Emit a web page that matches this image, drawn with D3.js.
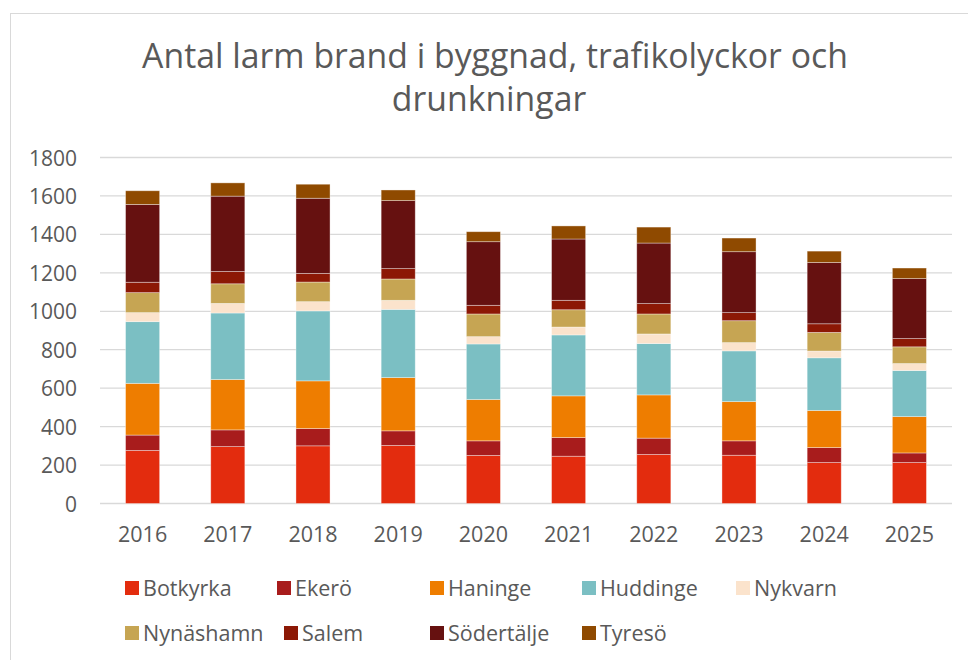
<!DOCTYPE html>
<html><head><meta charset="utf-8">
<script src="https://cdn.jsdelivr.net/npm/d3@7"></script>
<style>body{margin:0;background:#fff}svg{display:block}</style>
</head><body>
<svg id="c" width="968" height="660"></svg>
<script>
const years = ["2016","2017","2018","2019","2020","2021","2022","2023","2024","2025"];
const seriesNames = ["Botkyrka","Ekerö","Haninge","Huddinge","Nykvarn","Nynäshamn","Salem","Södertälje","Tyresö"];
const seriesColors = ["#E32C0E","#A81C1C","#EE7D00","#7BBFC3","#FBE3CC","#C6A553","#8C1805","#661110","#8F4A00"];
const Botkyrka   = [276, 296, 300, 302, 250, 246, 255, 251, 213, 213];
const Ekero      = [ 80,  87,  90,  76,  76,  97,  85,  75,  78,  50];
const Haninge    = [269, 262, 248, 277, 215, 217, 225, 204, 193, 189];
const Huddinge   = [321, 346, 364, 355, 289, 317, 267, 264, 274, 240];
const Nykvarn    = [ 47,  50,  48,  47,  38,  41,  50,  43,  35,  36];
const Nynashamn  = [104, 102, 102, 111, 118,  90, 104, 114,  97,  87];
const Salem      = [ 54,  64,  45,  54,  45,  49,  54,  42,  45,  43];
const Sodertalje = [405, 392, 391, 354, 331, 319, 315, 317, 319, 312];
const Tyreso     = [ 71,  69,  73,  55,  52,  68,  83,  71,  59,  55];
const yTicks = [0,200,400,600,800,1000,1200,1400,1600,1800];
const titleLines = ["Antal larm brand i byggnad, trafikolyckor och","drunkningar"];

const seriesValues = [Botkyrka,Ekero,Haninge,Huddinge,Nykvarn,Nynashamn,Salem,Sodertalje,Tyreso];
const table = years.map((yr,i)=>{const r={year:yr}; seriesNames.forEach((s,k)=>r[s]=seriesValues[k][i]); return r;});

const svg = d3.select("#c");
const FONT = "'Open Sans', 'Liberation Sans', sans-serif";
const TXT = "#595959";

// outer border
svg.append("rect").attr("x",10.5).attr("y",13.5).attr("width",1000).attr("height",700)
  .attr("fill","#fff").attr("stroke","#d9d9d9").attr("stroke-width",1);

const pLeft=100, pRight=952, pTop=157.5, pBottom=503.5;
const x = d3.scaleBand().domain(years).range([pLeft,pRight]).paddingInner(0.6).paddingOuter(0.3);
const y = d3.scaleLinear().domain([0,1800]).range([pBottom,pTop]);

// gridlines
svg.append("g").selectAll("line").data(yTicks).join("line")
  .attr("x1",pLeft).attr("x2",pRight).attr("y1",d=>y(d)).attr("y2",d=>y(d))
  .attr("stroke","#d9d9d9").attr("stroke-width",1.3);

// y axis labels
const yAxis = d3.axisLeft(y).tickValues(yTicks).tickSize(0).tickPadding(0).tickFormat(d3.format("d"));
const gy = svg.append("g").attr("transform",`translate(77,0)`).call(yAxis);
gy.select(".domain").remove();
gy.selectAll("text").attr("font-family",FONT).attr("font-size",21).attr("fill",TXT).attr("dy","0.36em");

// bars
const stack = d3.stack().keys(seriesNames)(table);
svg.append("g").selectAll("g").data(stack).join("g")
  .attr("fill",(d,i)=>seriesColors[i])
  .selectAll("rect").data(d=>d).join("rect")
  .attr("x",d=>x(d.data.year)).attr("width",x.bandwidth())
  .attr("y",d=>y(d[1])).attr("height",d=>y(d[0])-y(d[1]))
  .attr("stroke","#ffffff").attr("stroke-opacity",0.45).attr("stroke-width",0.8);

// x axis labels
const xAxis = d3.axisBottom(x).tickSize(0).tickPadding(0);
const gx = svg.append("g").attr("transform",`translate(0,${pBottom})`).call(xAxis);
gx.select(".domain").remove();
gx.selectAll("text").attr("font-family",FONT).attr("font-size",21.5).attr("fill",TXT)
  .attr("dy",0).attr("y",38);

// title
const t1 = svg.append("text").attr("x",495).attr("y",68).attr("text-anchor","middle")
  .attr("font-family",FONT).attr("font-size",34).attr("fill",TXT).text(titleLines[0]);
const w = t1.node().getComputedTextLength();
const fs = 34*706/w;
t1.attr("font-size",fs);
svg.append("text").attr("x",489).attr("y",111).attr("text-anchor","middle")
  .attr("font-family",FONT).attr("font-size",fs).attr("fill",TXT).text(titleLines[1]);

// legend
const legendPos = [[125,588],[277,588],[430,588],[582,588],[736,588],[125,633],[284,633],[430,633],[582,633]];
const lg = svg.append("g").selectAll("g").data(seriesNames).join("g")
  .attr("transform",(d,i)=>`translate(${legendPos[i][0]},${legendPos[i][1]})`);
lg.append("rect").attr("x",0).attr("y",-7).attr("width",14).attr("height",14).attr("fill",(d,i)=>seriesColors[i]);
lg.append("text").attr("x",18).attr("y",0).attr("dy","0.36em").attr("font-family",FONT)
  .attr("font-size",21.5).attr("fill",TXT).text(d=>d);
</script>
</body></html>
